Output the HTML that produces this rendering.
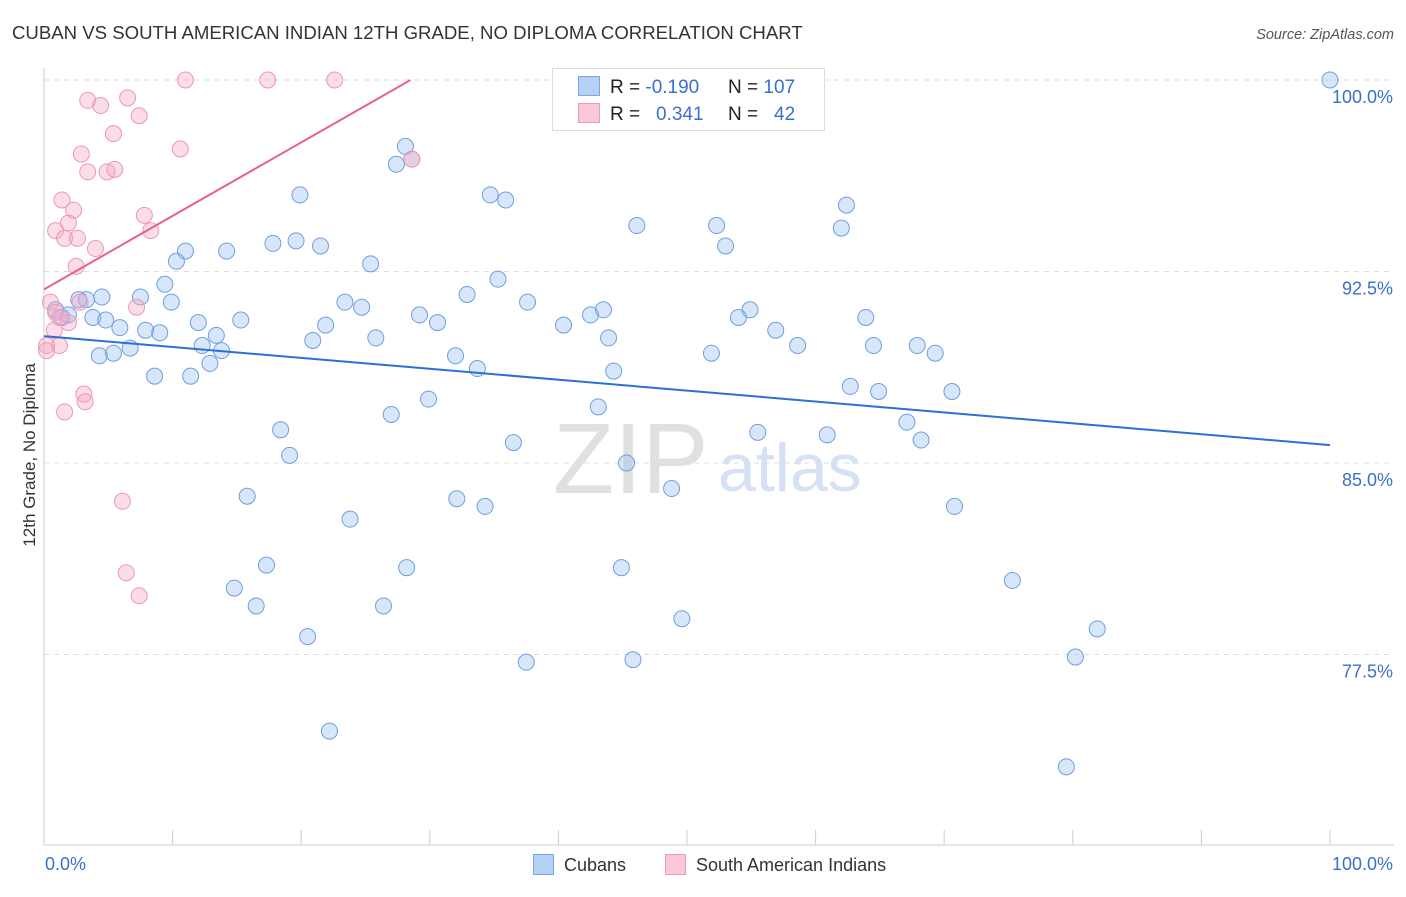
<!DOCTYPE html>
<html><head><meta charset="utf-8"><style>
body{margin:0;background:#fff;font-family:"Liberation Sans",sans-serif;}
svg text{font-family:"Liberation Sans",sans-serif;}
</style></head><body>
<svg id="chart" width="1406" height="892" viewBox="0 0 1406 892">
<text x="12" y="39" font-size="18.6" fill="#333">CUBAN VS SOUTH AMERICAN INDIAN 12TH GRADE, NO DIPLOMA CORRELATION CHART</text>
<text x="1394" y="39" font-size="14.5" fill="#555" font-style="italic" text-anchor="end">Source: ZipAtlas.com</text>
<g>
<text x="553" y="493" font-size="100" fill="#e0e0e0" font-family="Liberation Serif">ZIP</text>
<text x="718" y="491" font-size="68" fill="#d4e2f4">atlas</text>
</g>
<g id="grid"></g>
<g id="axes"></g>
<g id="pts"></g>
<g id="trend"></g>
<text x="35" y="455" font-size="17" fill="#333" text-anchor="middle" transform="rotate(-90 35 455)">12th Grade, No Diploma</text>
<g>
<rect x="552.5" y="68.5" width="272" height="62" fill="#fff" stroke="#ddd"/>
<rect x="578.5" y="76.5" width="21" height="19" fill="#b5d1f5" stroke="#7aa8e6"/>
<rect x="578.5" y="103.5" width="21" height="19" fill="#fbc8d8" stroke="#f09ab7"/>
<text x="610" y="93" font-size="19" fill="#222">R = <tspan fill="#3a70cc">-0.190</tspan></text>
<text x="728" y="93" font-size="19" fill="#222">N = <tspan fill="#3a70cc">107</tspan></text>
<text x="610" y="120" font-size="19" fill="#222">R = <tspan fill="#3a70cc" x="656">0.341</tspan></text>
<text x="728" y="120" font-size="19" fill="#222">N = <tspan fill="#3a70cc" x="774">42</tspan></text>
</g>
<g>
<rect x="533.5" y="854.5" width="20" height="20" fill="#b5d1f5" stroke="#7aa8e6"/>
<text x="564" y="871" font-size="18" fill="#333">Cubans</text>
<rect x="665.5" y="854.5" width="20" height="20" fill="#fbc8d8" stroke="#f09ab7"/>
<text x="696" y="871" font-size="18" fill="#333">South American Indians</text>
</g>
</svg>
<script>
const yTicks=[100,92.5,85,77.5];
const yTickLabels=["100.0%","92.5%","85.0%","77.5%"];
const xTickCount=10;
const blueX=[100,28.1,27.4,28.6,19.9,34.7,35.9,46.1,52.3,62.4,62.0,53.0,17.8,19.6,21.5,14.2,11.0,10.3,25.4,35.3,9.4,7.5,9.9,4.5,3.3,2.7,0.9,1.4,1.9,3.8,4.8,5.9,7.9,9.0,12.0,15.3,13.4,12.3,13.8,6.7,5.4,4.3,8.6,11.4,12.9,23.4,24.7,21.9,20.9,25.8,29.2,30.6,32.9,37.6,43.5,40.4,42.5,43.9,32.0,33.7,44.3,51.9,54.0,54.9,56.9,58.6,63.9,64.5,67.9,69.3,62.7,64.9,70.6,67.1,68.2,55.5,60.9,43.1,36.5,29.9,27.0,18.4,19.1,45.3,48.8,32.1,34.3,15.8,23.8,70.8,17.3,28.2,44.9,14.8,16.5,26.4,75.3,49.6,20.5,81.9,37.5,45.8,80.2,22.2,79.5];
const blueY=[100,97.4,96.7,96.9,95.5,95.5,95.3,94.3,94.3,95.1,94.2,93.5,93.6,93.7,93.5,93.3,93.3,92.9,92.8,92.2,92.0,91.5,91.3,91.5,91.4,91.4,91.0,90.7,90.8,90.7,90.6,90.3,90.2,90.1,90.5,90.6,90.0,89.6,89.4,89.5,89.3,89.2,88.4,88.4,88.9,91.3,91.1,90.4,89.8,89.9,90.8,90.5,91.6,91.3,91.0,90.4,90.8,89.9,89.2,88.7,88.6,89.3,90.7,91.0,90.2,89.6,90.7,89.6,89.6,89.3,88.0,87.8,87.8,86.6,85.9,86.2,86.1,87.2,85.8,87.5,86.9,86.3,85.3,85.0,84.0,83.6,83.3,83.7,82.8,83.3,81.0,80.9,80.9,80.1,79.4,79.4,80.4,78.9,78.2,78.5,77.2,77.3,77.4,74.5,73.1];
const pinkX=[11.0,17.4,22.6,3.4,6.5,4.4,7.4,5.4,10.6,2.9,3.4,4.9,5.5,1.4,2.3,7.8,1.9,0.9,8.3,1.6,2.6,4.0,2.5,0.5,2.8,7.2,1.9,0.8,1.2,0.2,3.1,3.2,1.6,6.1,6.4,7.4,28.6,0.9,1.2,0.2];
const pinkY=[100,100,100,99.2,99.3,99.0,98.6,97.9,97.3,97.1,96.4,96.4,96.5,95.3,94.9,94.7,94.4,94.1,94.1,93.8,93.8,93.4,92.7,91.3,91.3,91.1,90.5,90.2,89.6,89.6,87.7,87.4,87.0,83.5,80.7,79.8,96.9,90.9,90.7,89.4];
const blueTrend=[[0,89.97],[100,85.7]];
const pinkTrend=[[0,91.8],[28.5,100]];

const NS="http://www.w3.org/2000/svg";
const X0=44,X1=1330,Y100=80,PXPER=191.5/7.5;
function sx(v){return X0+(X1-X0)*v/100;}
function sy(v){return Y100+(100-v)*PXPER;}
function mk(tag,attrs,parent){const e=document.createElementNS(NS,tag);for(const k in attrs)e.setAttribute(k,attrs[k]);parent.appendChild(e);return e;}
const grid=document.getElementById('grid'),axes=document.getElementById('axes'),pts=document.getElementById('pts'),trend=document.getElementById('trend');
yTicks.forEach((t,i)=>{
 const l=mk('line',{x1:X0,x2:1394,y1:sy(t),y2:sy(t),stroke:'#ddd','stroke-dasharray':'5,5'},grid);
 
 
 const tx=mk('text',{x:1393,y:sy(t)+23,'font-size':18,fill:'#3a70cc','text-anchor':'end'},axes);
 tx.textContent=yTickLabels[i];
 
 
});
let a=mk('line',{x1:X0,x2:X0,y1:68,y2:845,stroke:'#ccc'},axes);


a=mk('line',{x1:X0,x2:1394,y1:845,y2:845,stroke:'#ccc'},axes);


for(let i=0;i<=xTickCount;i++){
 const t=mk('line',{x1:sx(i*100/xTickCount),x2:sx(i*100/xTickCount),y1:830,y2:845,stroke:'#ccc'},axes);
 
 
}
let t0=mk('text',{x:45,y:870,'font-size':18,fill:'#3a70cc'},axes);t0.textContent='0.0%';


t0=mk('text',{x:1393,y:870,'font-size':18,fill:'#3a70cc','text-anchor':'end'},axes);t0.textContent='100.0%';


blueX.forEach((x,i)=>{
 const c=mk('circle',{cx:sx(x),cy:sy(blueY[i]),r:8,fill:'rgba(140,182,238,0.35)',stroke:'#6f9fe0','stroke-width':1},pts);
 
 
});
pinkX.forEach((x,i)=>{
 const c=mk('circle',{cx:sx(x),cy:sy(pinkY[i]),r:8,fill:'rgba(246,170,196,0.4)',stroke:'#ee97b4','stroke-width':1},pts);
 
 
});
let ln=mk('line',{x1:sx(blueTrend[0][0]),y1:sy(blueTrend[0][1]),x2:sx(blueTrend[1][0]),y2:sy(blueTrend[1][1]),stroke:'#2d6fd6','stroke-width':2},trend);


ln=mk('line',{x1:sx(pinkTrend[0][0]),y1:sy(pinkTrend[0][1]),x2:sx(pinkTrend[1][0]),y2:sy(pinkTrend[1][1]),stroke:'#e8628f','stroke-width':2},trend);


</script>
</body></html>
